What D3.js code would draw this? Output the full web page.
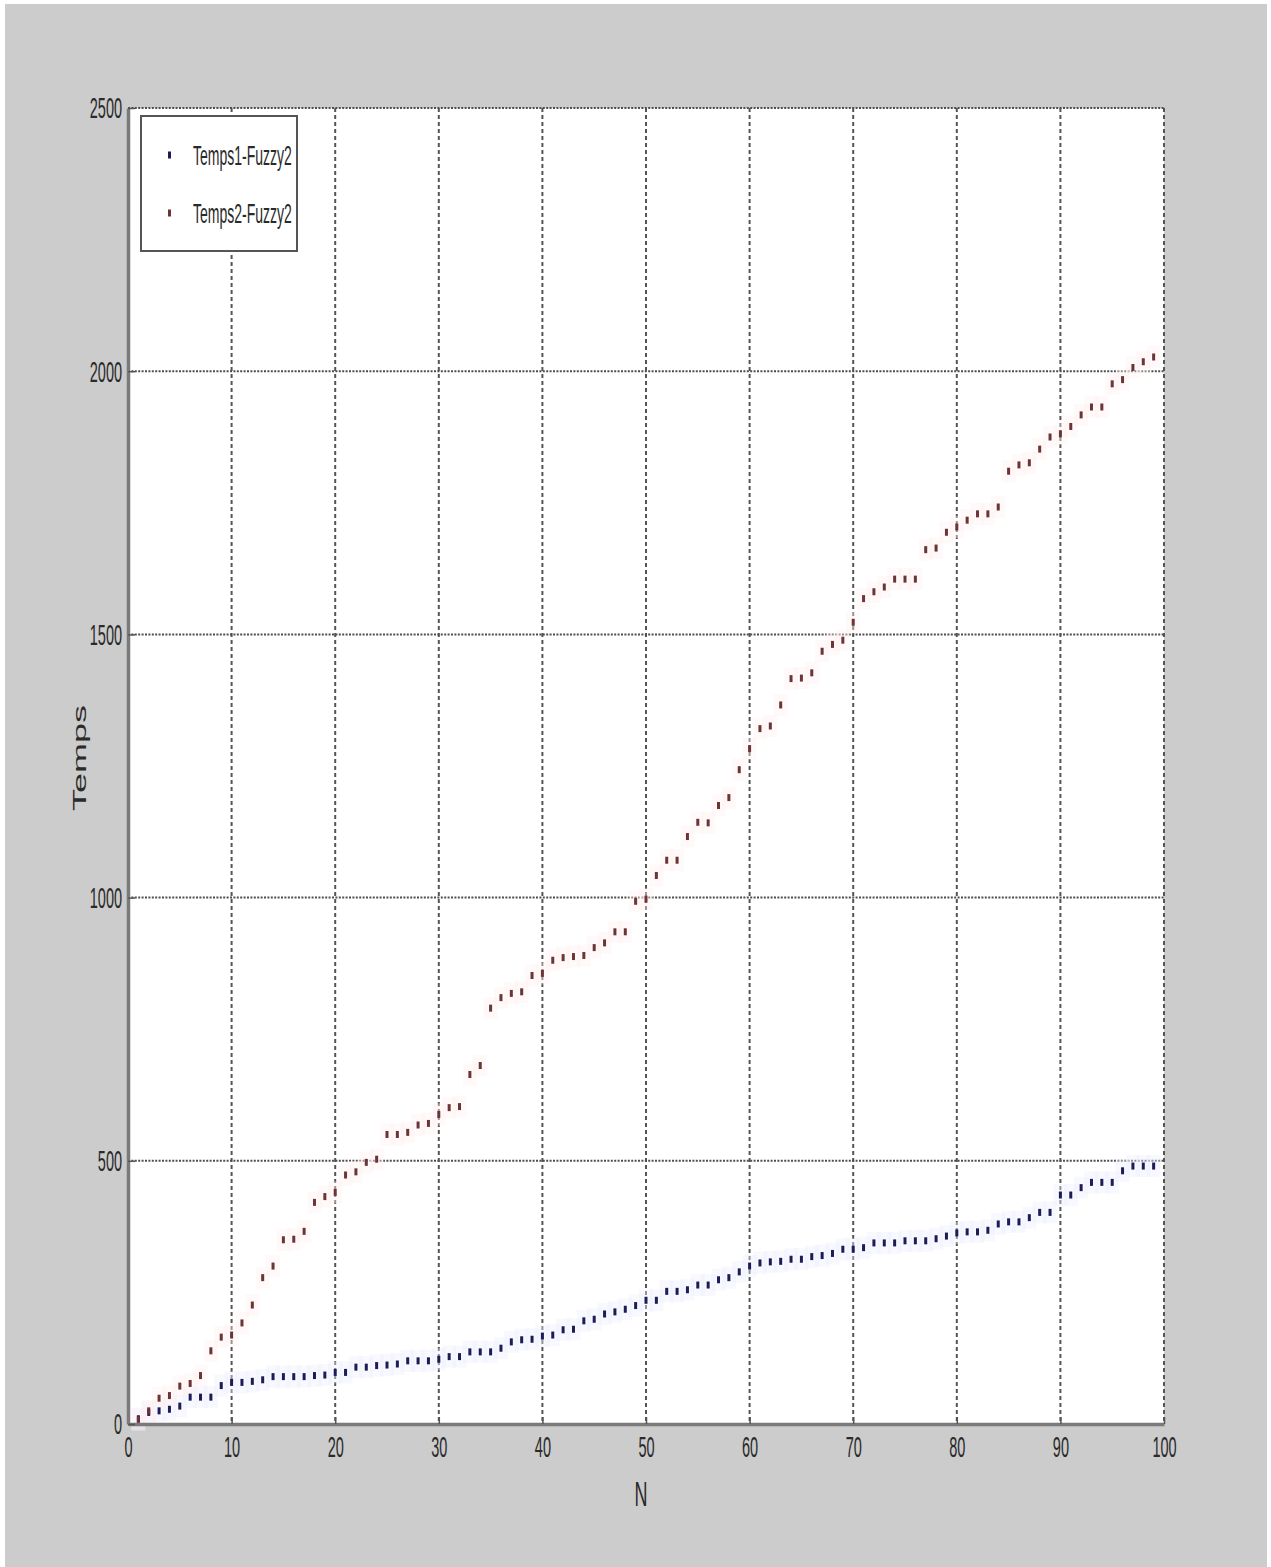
<!DOCTYPE html>
<html>
<head>
<meta charset="utf-8">
<script src="https://cdn.jsdelivr.net/npm/d3@7"></script>
<style>
  body { margin: 0; background: #ffffff; }
  svg text { font-family: "Liberation Sans", Arial, sans-serif; fill: #2a2a2a; }
</style>
</head>
<body>
<div id="chart"></div>
<script>
// N values (x) for both series
const nValues = [
  1, 2, 3, 4, 5, 6, 7, 8, 9, 10, 11, 12, 13, 14, 15, 16, 17, 18, 19, 20,
  21, 22, 23, 24, 25, 26, 27, 28, 29, 30, 31, 32, 33, 34, 35, 36, 37, 38, 39, 40,
  41, 42, 43, 44, 45, 46, 47, 48, 49, 50, 51, 52, 53, 54, 55, 56, 57, 58, 59, 60,
  61, 62, 63, 64, 65, 66, 67, 68, 69, 70, 71, 72, 73, 74, 75, 76, 77, 78, 79, 80,
  81, 82, 83, 84, 85, 86, 87, 88, 89, 90, 91, 92, 93, 94, 95, 96, 97, 98, 99
];

// Temps1-Fuzzy2 (blue)
const temps1Fuzzy2 = [
  10, 22, 25, 28, 34, 51, 51, 51, 73, 79, 79, 81, 84, 90, 90, 90, 90, 92, 93, 98,
  98, 108, 108, 111, 112, 114, 120, 120, 120, 123, 128, 128, 137, 137, 137, 144, 156, 160, 161, 167,
  169, 179, 180, 196, 199, 209, 213, 218, 225, 235, 235, 252, 252, 255, 264, 264, 274, 278, 289, 300,
  306, 308, 309, 313, 313, 318, 320, 324, 332, 332, 335, 344, 344, 344, 348, 348, 348, 352, 357, 363,
  365, 365, 368, 380, 384, 384, 392, 402, 402, 435, 435, 449, 459, 459, 459, 481, 490, 490, 490
];

// Temps2-Fuzzy2 (red)
const temps2Fuzzy2 = [
  8, 25, 49, 54, 72, 77, 92, 139, 165, 169, 192, 226, 278, 300, 350, 351, 366, 421, 432, 440,
  473, 479, 497, 503, 550, 550, 554, 568, 571, 588, 601, 603, 664, 681, 790, 810, 818, 821, 852, 856,
  881, 886, 888, 890, 905, 914, 935, 935, 993, 997, 1042, 1071, 1071, 1116, 1143, 1142, 1175, 1190, 1243, 1283,
  1321, 1326, 1366, 1416, 1417, 1427, 1468, 1481, 1489, 1523, 1568, 1581, 1590, 1605, 1605, 1605, 1661, 1664, 1694, 1704,
  1717, 1729, 1729, 1742, 1810, 1822, 1826, 1852, 1875, 1881, 1895, 1917, 1932, 1932, 1976, 1984, 2007, 2018, 2027
];

const seriesNames = ["Temps1-Fuzzy2", "Temps2-Fuzzy2"];
const xTicks = [0, 10, 20, 30, 40, 50, 60, 70, 80, 90, 100];
const yTicks = [0, 500, 1000, 1500, 2000, 2500];
const xLabel = "N";
const yLabel = "Temps";

class ScatterPlotView {
  constructor(_config) {
    this.config = {
      parentElement: _config.parentElement,
      containerWidth: _config.containerWidth || 1271,
      containerHeight: _config.containerHeight || 1567,
      margin: _config.margin || { top: 108, right: 107, bottom: 143, left: 128 },
    };
    this.squeeze = "scale(0.5,1)"; // the picture's text is narrow and tall
    this.initVis();
  }

  initVis() {
    let vis = this;

    vis.width = vis.config.containerWidth - vis.config.margin.left - vis.config.margin.right;
    vis.height = vis.config.containerHeight - vis.config.margin.top - vis.config.margin.bottom;

    vis.svg = d3.select(vis.config.parentElement)
      .append("svg")
      .attr("width", vis.config.containerWidth)
      .attr("height", vis.config.containerHeight);

    // grey figure background
    vis.svg.append("rect")
      .attr("x", 5).attr("y", 4)
      .attr("width", vis.config.containerWidth - 9)
      .attr("height", vis.config.containerHeight - 4)
      .attr("fill", "#cccccc");

    vis.chart = vis.svg.append("g")
      .attr("transform", `translate(${vis.config.margin.left},${vis.config.margin.top})`);

    // white plot area
    vis.chart.append("rect")
      .attr("width", vis.width)
      .attr("height", vis.height)
      .attr("fill", "#ffffff");

    vis.gridG = vis.chart.append("g").attr("class", "grid");
    vis.haloG = vis.chart.append("g").attr("class", "halos");
    vis.pointG = vis.chart.append("g").attr("class", "points");
    vis.xAxisG = vis.chart.append("g").attr("class", "axis x-axis")
      .attr("transform", `translate(0,${vis.height})`);
    vis.yAxisG = vis.chart.append("g").attr("class", "axis y-axis");
    vis.legendG = vis.chart.append("g").attr("class", "legend");

    // axis labels
    vis.chart.append("text")
      .attr("transform", `translate(${vis.width / 2 - 5},${vis.height + 69}) ${vis.squeeze}`)
      .attr("text-anchor", "middle")
      .attr("dominant-baseline", "central")
      .attr("font-size", 36)
      .text(xLabel);

    vis.chart.append("text")
      .attr("transform", `translate(-48,${vis.height / 2 - 8}) ${vis.squeeze} rotate(-90)`)
      .attr("text-anchor", "middle")
      .attr("dominant-baseline", "central")
      .attr("font-size", 36)
      .text(yLabel);

    vis.updateVis();
  }

  updateVis() {
    let vis = this;

    vis.series = [
      { name: seriesNames[0], color: "#1c1c58", halo: "#ededff", values: temps1Fuzzy2 },
      { name: seriesNames[1], color: "#6c3434", halo: "#ffefef", values: temps2Fuzzy2 },
    ];

    vis.xScale = d3.scaleLinear().domain([0, 100]).range([0, vis.width]);
    vis.yScale = d3.scaleLinear().domain([0, 2500]).range([vis.height, 0]);

    vis.renderVis();
  }

  renderVis() {
    let vis = this;

    // vertical dashed grid lines
    vis.gridG.selectAll(".vgrid")
      .data(xTicks.filter(d => d > 0))
      .join("line")
      .attr("class", "vgrid")
      .attr("x1", d => vis.xScale(d)).attr("x2", d => vis.xScale(d))
      .attr("y1", 0).attr("y2", vis.height)
      .attr("stroke", "#555555")
      .attr("stroke-width", 2)
      .attr("stroke-dasharray", "4,3");

    // horizontal dotted grid lines
    vis.gridG.selectAll(".hgrid")
      .data(yTicks.filter(d => d > 0))
      .join("line")
      .attr("class", "hgrid")
      .attr("x1", 0).attr("x2", vis.width)
      .attr("y1", d => vis.yScale(d)).attr("y2", d => vis.yScale(d))
      .attr("stroke", "#4e4e4e")
      .attr("stroke-width", 2)
      .attr("stroke-dasharray", "2,1.4");

    const flat = [];
    vis.series.forEach(s => {
      s.values.forEach((v, i) => flat.push({ n: nValues[i], v: v, s: s }));
    });

    // faint coloured halo round the markers
    vis.haloG.selectAll("rect")
      .data(flat)
      .join("rect")
      .attr("x", d => vis.xScale(d.n) - 7)
      .attr("y", d => vis.yScale(d.v) - 11)
      .attr("width", 14)
      .attr("height", 22)
      .attr("fill", d => d.s.halo)
      .attr("opacity", 0.4);

    // the markers themselves (squeezed dots)
    vis.pointG.selectAll("rect")
      .data(flat)
      .join("rect")
      .attr("x", d => vis.xScale(d.n) - 1.5)
      .attr("y", d => vis.yScale(d.v) - 3.5)
      .attr("width", 3)
      .attr("height", 7)
      .attr("fill", d => d.s.color);

    // axes
    vis.xAxis = d3.axisBottom(vis.xScale)
      .tickValues(xTicks)
      .tickSizeInner(-7)
      .tickSizeOuter(0)
      .tickFormat(d3.format("d"));

    vis.yAxis = d3.axisLeft(vis.yScale)
      .tickValues(yTicks)
      .tickSizeInner(-7)
      .tickSizeOuter(0)
      .tickFormat(d3.format("d"));

    vis.xAxisG.call(vis.xAxis);
    vis.yAxisG.call(vis.yAxis);

    [vis.xAxisG, vis.yAxisG].forEach(g => {
      g.select(".domain").attr("stroke", "#7a7a7a").attr("stroke-width", 3.5);
      g.selectAll(".tick line").attr("stroke", "#555555").attr("stroke-width", 1.5);
      g.selectAll(".tick text")
        .attr("font-size", 29)
        .attr("fill", "#2a2a2a")
        .attr("transform", vis.squeeze);
    });
    vis.xAxisG.selectAll(".tick text").attr("y", 12).attr("dy", "0.71em");
    vis.yAxisG.selectAll(".tick text").attr("x", -12).attr("dy", "0.34em");

    // legend
    const lx = 13, ly = 8;
    vis.legendG.append("rect")
      .attr("x", lx).attr("y", ly)
      .attr("width", 156).attr("height", 135)
      .attr("fill", "#ffffff")
      .attr("stroke", "#555555")
      .attr("stroke-width", 2);

    const items = vis.legendG.selectAll(".legend-item")
      .data(vis.series)
      .join("g")
      .attr("class", "legend-item")
      .attr("transform", (d, i) => `translate(${lx},${ly + 39 + i * 58})`);

    items.append("rect")
      .attr("x", 27).attr("y", -3.5)
      .attr("width", 3).attr("height", 7)
      .attr("fill", d => d.color);

    items.append("text")
      .attr("transform", `translate(52,0) ${vis.squeeze}`)
      .attr("dy", "0.35em")
      .attr("font-size", 28)
      .text(d => d.name);
  }
}

new ScatterPlotView({ parentElement: "#chart" });
</script>
</body>
</html>
